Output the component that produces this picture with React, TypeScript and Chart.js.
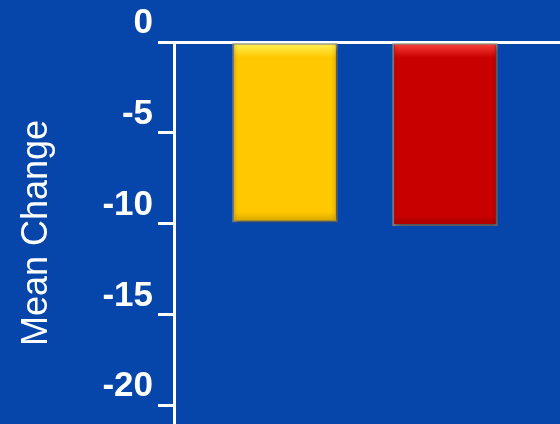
import React, { useEffect, useRef } from "react";
import { Chart, registerables } from "chart.js";

Chart.register(...registerables);

// Two groups, mean change from baseline
const categories = ["Group 1", "Group 2"];
const groupIndex = [1, 2];
const meanChange = [-9.9, -10.1];
const barColors = ["#FFC800", "#C80000"];
const barHighlights = ["rgba(255,245,90,", "rgba(255,70,60,"];
const yTickValues = [0, -5, -10, -15, -20];

const BG = "#0646AA";
const FONT = "'Liberation Sans', Arial, Helvetica, sans-serif";

// Soft drop shadow under the bars plus a glossy top edge
const barGloss = {
  id: "barGloss",
  beforeDatasetsDraw(chart: any) {
    const ctx = chart.ctx;
    ctx.save();
    ctx.shadowColor = "rgba(0,0,0,0.45)";
    ctx.shadowBlur = 6;
    ctx.shadowOffsetX = 2;
    ctx.shadowOffsetY = 3;
  },
  afterDatasetsDraw(chart: any) {
    const ctx = chart.ctx;
    ctx.restore();
    const meta = chart.getDatasetMeta(0);
    meta.data.forEach((bar: any, i: number) => {
      const left = bar.x - bar.width / 2;
      const top = Math.min(bar.y, bar.base);
      const h = Math.abs(bar.base - bar.y);
      const hl = barHighlights[i % barHighlights.length];
      ctx.save();
      // top highlight
      const g = ctx.createLinearGradient(0, top, 0, top + 14);
      g.addColorStop(0, hl + "0.95)");
      g.addColorStop(1, hl + "0)");
      ctx.fillStyle = g;
      ctx.fillRect(left + 2, top + 1, bar.width - 4, 14);
      // bottom and side bevel
      const gb = ctx.createLinearGradient(0, top + h - 10, 0, top + h);
      gb.addColorStop(0, "rgba(0,0,0,0)");
      gb.addColorStop(1, "rgba(0,0,0,0.18)");
      ctx.fillStyle = gb;
      ctx.fillRect(left + 2, top + h - 10, bar.width - 4, 8);
      const gs = ctx.createLinearGradient(left, 0, left + bar.width, 0);
      gs.addColorStop(0, "rgba(0,0,0,0.12)");
      gs.addColorStop(0.06, "rgba(0,0,0,0)");
      gs.addColorStop(0.94, "rgba(0,0,0,0)");
      gs.addColorStop(1, "rgba(0,0,0,0.12)");
      ctx.fillStyle = gs;
      ctx.fillRect(left + 2, top + 1, bar.width - 4, h - 3);
      ctx.restore();
    });
  },
};

export default function App() {
  const canvasRef = useRef<HTMLCanvasElement | null>(null);

  useEffect(() => {
    if (!canvasRef.current) return;
    const chart = new Chart(canvasRef.current, {
      type: "bar",
      data: {
        labels: categories,
        datasets: [
          {
            label: "Mean Change",
            data: groupIndex.map((x, i) => ({ x, y: meanChange[i] })),
            backgroundColor: barColors,
            borderColor: "rgba(140,140,130,0.9)",
            borderWidth: 2,
            borderSkipped: false,
            barThickness: 105,
          },
        ],
      },
      plugins: [barGloss],
      options: {
        animation: false,
        responsive: false,
        maintainAspectRatio: false,
        layout: { padding: 0 },
        plugins: {
          legend: { display: false },
          tooltip: { enabled: false },
        },
        scales: {
          x: {
            type: "linear",
            position: "top",
            offset: false,
            min: 0.30625,
            max: 2.71875,
            z: 1,
            grid: { display: false, drawTicks: false, offset: false },
            border: { display: true, color: "#FFFFFF", width: 3 },
            ticks: { display: false },
            afterFit(scale: any) {
              scale.height = 42;
              scale.paddingLeft = 0;
              scale.paddingRight = 0;
            },
          },
          y: {
            min: -21,
            max: 0,
            afterBuildTicks(scale: any) {
              scale.ticks = yTickValues.map((v) => ({ value: v }));
            },
            afterFit(scale: any) {
              scale.width = 174;
              scale.paddingTop = 0;
              scale.paddingBottom = 0;
            },
            grid: {
              drawOnChartArea: false,
              drawTicks: true,
              tickLength: 16,
              color: "#FFFFFF",
              lineWidth: 3,
            },
            border: { display: true, color: "#FFFFFF", width: 3 },
            ticks: {
              color: "#FFFFFF",
              padding: 5,
              labelOffset: -19,
              font: { family: FONT, size: 35, weight: "bold" },
            },
            title: {
              display: true,
              text: "Mean Change",
              color: "#FFFFFF",
              padding: { top: 15, bottom: 0 },
              font: { family: FONT, size: 36, weight: "normal" },
            },
          },
        },
      },
    });
    return () => chart.destroy();
  }, []);

  return (
    <div
      style={{
        position: "fixed",
        left: 0,
        top: 0,
        width: 560,
        height: 424,
        background: BG,
      }}
    >
      <canvas ref={canvasRef} width={560} height={424} style={{ display: "block" }} />
    </div>
  );
}
